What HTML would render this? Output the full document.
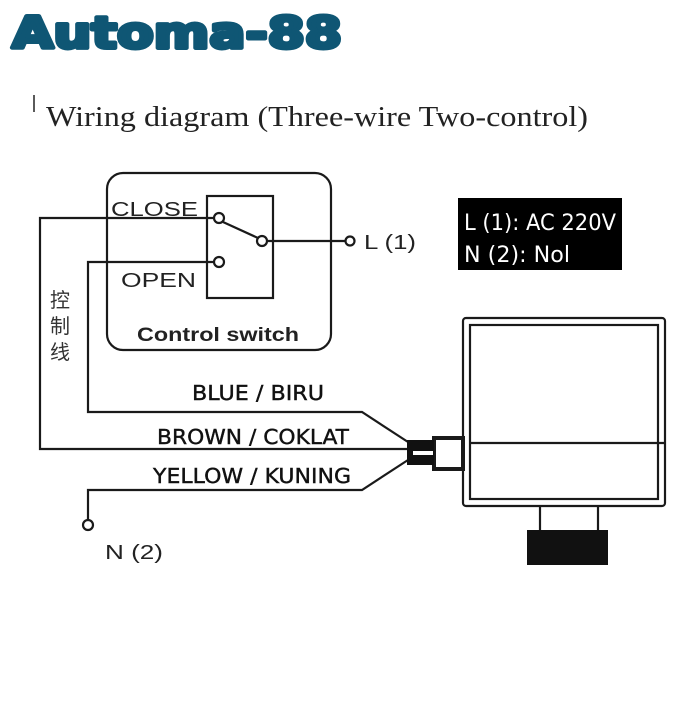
<!DOCTYPE html>
<html><head><meta charset="utf-8"><style>
html,body{margin:0;padding:0;background:#fff;}
body{width:700px;height:700px;overflow:hidden;position:relative;}
</style></head><body>
<svg width="700" height="700" viewBox="0 0 700 700" xmlns="http://www.w3.org/2000/svg">
<rect width="700" height="700" fill="#fff"/>
<text x="12" y="48" font-family="'DejaVu Sans', sans-serif" font-weight="bold" font-size="44" fill="#0f5674" stroke="#0f5674" stroke-width="4" stroke-linejoin="round" textLength="330" lengthAdjust="spacingAndGlyphs">Automa-88</text>
<line x1="34" y1="95" x2="34" y2="112" stroke="#222" stroke-width="1.5"/>
<text x="46" y="126" font-family="'Liberation Serif', serif" font-size="29" fill="#222" textLength="542" lengthAdjust="spacingAndGlyphs">Wiring diagram (Three-wire Two-control)</text>
<g fill="none" stroke="#1a1a1a" stroke-width="2.2">
<rect x="107" y="173" width="224" height="177" rx="16"/>
<rect x="207" y="196" width="66" height="102"/>
<circle cx="219" cy="218" r="5" fill="#fff"/>
<circle cx="262" cy="241" r="5" fill="#fff"/>
<circle cx="219" cy="262" r="5" fill="#fff"/>
<line x1="223" y1="222" x2="258" y2="238"/>
<line x1="267" y1="241" x2="345" y2="241"/>
<circle cx="350" cy="241" r="4.5" fill="#fff"/>
<polyline points="214,218 40,218 40,449 408,449"/>
<polyline points="214,262 88,262 88,412 362,412 408,442"/>
<polyline points="408,460 362,490 88,490 88,520"/>
<circle cx="88" cy="525" r="5" fill="#fff"/>
<rect x="463" y="318" width="202" height="188" rx="3"/>
<rect x="470" y="325" width="188" height="174"/>
<line x1="470" y1="443" x2="665" y2="443"/>
<rect x="434" y="438" width="29" height="31" stroke-width="4"/>
<line x1="540" y1="506" x2="540" y2="531"/>
<line x1="598" y1="506" x2="598" y2="531"/>
</g>
<rect x="407" y="440" width="27" height="25" fill="#111"/>
<rect x="413" y="451" width="20" height="4" fill="#fff"/>
<rect x="527" y="530" width="81" height="35" fill="#111"/>
<rect x="458" y="198" width="164" height="72" fill="#000"/>
<text x="464" y="230" font-family="'DejaVu Sans', sans-serif" font-size="22" fill="#fff" textLength="152" lengthAdjust="spacingAndGlyphs">L (1): AC 220V</text>
<text x="464" y="262" font-family="'DejaVu Sans', sans-serif" font-size="22" fill="#fff" textLength="106" lengthAdjust="spacingAndGlyphs">N (2): Nol</text>
<g font-family="'Liberation Sans', sans-serif" fill="#222">
<text x="111" y="216" font-size="20" textLength="87" lengthAdjust="spacingAndGlyphs">CLOSE</text>
<text x="121" y="287" font-size="20" textLength="75" lengthAdjust="spacingAndGlyphs">OPEN</text>
<text x="137" y="341" font-size="19" font-weight="bold" textLength="162" lengthAdjust="spacingAndGlyphs">Control switch</text>
<text x="364" y="249" font-size="20" textLength="52" lengthAdjust="spacingAndGlyphs">L (1)</text>
<text x="105" y="559" font-size="20" textLength="58" lengthAdjust="spacingAndGlyphs">N (2)</text>
</g>
<g font-family="'DejaVu Sans', sans-serif" fill="#111" font-size="20" stroke="#111" stroke-width="0.4">
<text x="192" y="400" textLength="132" lengthAdjust="spacingAndGlyphs">BLUE / BIRU</text>
<text x="157" y="444" textLength="192" lengthAdjust="spacingAndGlyphs">BROWN / COKLAT</text>
<text x="153" y="483" textLength="198" lengthAdjust="spacingAndGlyphs">YELLOW / KUNING</text>
</g>
<g font-family="'Liberation Sans','Noto Sans CJK SC',sans-serif" font-size="20" fill="#333">
<text x="50" y="307">控</text>
<text x="50" y="333">制</text>
<text x="50" y="359">线</text>
</g>
</svg>
</body></html>
